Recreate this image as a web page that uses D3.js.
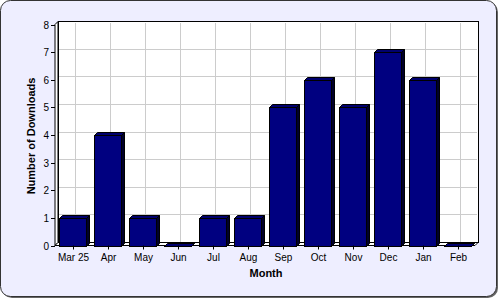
<!DOCTYPE html>
<html><head><meta charset="utf-8">
<script src="https://cdn.jsdelivr.net/npm/d3@7"></script>
<style>html,body{margin:0;padding:0;background:#fff}svg{display:block}</style>
</head><body>
<svg id="c" width="500" height="300"></svg>
<script>
const categories = ["Mar 25","Apr","May","Jun","Jul","Aug","Sep","Oct","Nov","Dec","Jan","Feb"];
const downloads = [1,4,1,0,1,1,5,6,5,7,6,0];
const yTicks = [0,1,2,3,4,5,6,7,8];
const xTitle = "Month";
const yTitle = "Number of Downloads";

const svg = d3.select("#c");
const D = 3; // 3D depth
const x = d3.scaleBand().domain(categories).range([55, 475]).paddingInner(0.257).paddingOuter(0.1285);
const y = d3.scaleLinear().domain([0, 8]).range([245.5, 24.5]);

// background + shadow
svg.append("rect").attr("x",2).attr("y",2).attr("width",496).attr("height",296).attr("rx",10).attr("fill","#666");
svg.append("rect").attr("x",0.5).attr("y",0.5).attr("width",496).attr("height",296).attr("rx",10)
  .attr("fill","#EEEEFF").attr("stroke","#333");

// back wall
svg.append("rect").attr("x",55+D).attr("y",y(8)-D).attr("width",420).attr("height",y(0)-y(8))
  .attr("fill","#fff").attr("stroke","#000").attr("shape-rendering","crispEdges");
// grid lines
const g = svg.append("g").attr("stroke","#cccccc").attr("shape-rendering","crispEdges");
yTicks.filter(v=>v>0&&v<8).forEach(v=>{
  g.append("line").attr("x1",55+D+1).attr("x2",475+D-1).attr("y1",y(v)-D).attr("y2",y(v)-D);
});
categories.forEach(c=>{
  const cx = x(c)+x.bandwidth()/2+D;
  g.append("line").attr("x1",cx).attr("x2",cx).attr("y1",y(8)-D+1).attr("y2",y(0)-D);
});
// left wall
svg.append("path").attr("d",`M55,${y(0)}L55,${y(8)}L${55+D},${y(8)-D}L${55+D},${y(0)-D}Z`)
  .attr("fill","#fff").attr("stroke","#000");
// floor
svg.append("path").attr("d",`M55,${y(0)}L${55+D},${y(0)-D}L${475+D},${y(0)-D}L475,${y(0)}Z`)
  .attr("fill","#fff").attr("stroke","#000");

// bars
const bars = svg.append("g").attr("stroke","#000").attr("stroke-width",1).attr("stroke-linejoin","miter");
categories.forEach((c,i)=>{
  const v = downloads[i];
  const x0 = Math.round(x(c))+0.5, x1 = Math.round(x(c)+x.bandwidth())+0.5;
  const yt = Math.round(y(v))+0.5, yb = Math.round(y(0))+0.5;
  bars.append("path").attr("d",`M${x1},${yt}L${x1+D},${yt-D}L${x1+D},${yb-D}L${x1},${yb}Z`).attr("fill","#00002a");
  bars.append("path").attr("d",`M${x0},${yt}L${x0+D},${yt-D}L${x1+D},${yt-D}L${x1},${yt}Z`).attr("fill","#00006e");
  bars.append("rect").attr("x",x0).attr("y",yt).attr("width",x1-x0).attr("height",Math.max(yb-yt,0.01)).attr("fill","#000080");
});

// y axis
const ya = svg.append("g").attr("font-family","Liberation Sans, Arial, sans-serif").attr("font-size","10px");
yTicks.forEach(v=>{
  const yy = Math.round(y(v))+0.5;
  ya.append("line").attr("x1",51).attr("x2",55).attr("y1",yy).attr("y2",yy).attr("stroke","#000");
  ya.append("text").attr("x",49).attr("y",yy).attr("dy","0.36em").attr("text-anchor","end").text(v);
});
// x axis
categories.forEach(c=>{
  const cx = Math.round(x(c)+x.bandwidth()/2)+0.5;
  ya.append("line").attr("x1",cx).attr("x2",cx).attr("y1",y(0)).attr("y2",y(0)+4).attr("stroke","#000");
  ya.append("text").attr("x",cx).attr("y",261).attr("text-anchor","middle").text(c);
});
// titles
svg.append("text").attr("x",266).attr("y",277).attr("text-anchor","middle")
  .attr("font-family","Liberation Sans, Arial, sans-serif").attr("font-size","11px").attr("font-weight","bold").text(xTitle);
svg.append("text").attr("transform","translate(35,136) rotate(-90)").attr("text-anchor","middle")
  .attr("font-family","Liberation Sans, Arial, sans-serif").attr("font-size","11px").attr("font-weight","bold").text(yTitle);
</script>
</body></html>
